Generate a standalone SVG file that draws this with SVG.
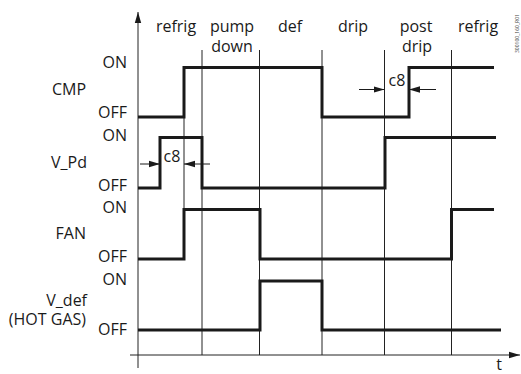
<svg xmlns="http://www.w3.org/2000/svg" width="521" height="374" viewBox="0 0 521 374">
<style>
text{font-family:"Open Sans","Noto Sans","Liberation Sans",sans-serif;font-size:16px;fill:#1a1a1a}
.r{text-anchor:end}
.c{text-anchor:middle}
.thin{stroke:#222;stroke-width:1;fill:none}
.sig{stroke:#1a1a1a;stroke-width:3;fill:none;stroke-linejoin:miter;stroke-linecap:butt}
.dim{stroke:#1a1a1a;stroke-width:1;fill:none}
.tiny{font-size:5px;fill:#444}
</style>
<defs>
<marker id="ah" markerWidth="12" markerHeight="8" refX="11" refY="4" orient="auto" markerUnits="userSpaceOnUse">
<path d="M0,0.8 L11,4 L0,7.2 Z" fill="#1a1a1a"/>
</marker>
</defs>
<g id="axes">
<line class="thin" x1="138" y1="368" x2="138" y2="12" marker-end="url(#ah)" stroke-width="1.2"/>
<line class="thin" x1="130" y1="355" x2="520" y2="355" marker-end="url(#ah)" stroke-width="1.2"/>
<text x="499" y="370" class="c">t</text>
</g>
<g id="phase-lines">
<line class="thin" x1="202" y1="50" x2="202" y2="355"/>
<line class="thin" x1="259.5" y1="50" x2="259.5" y2="355"/>
<line class="thin" x1="322" y1="50" x2="322" y2="355"/>
<line class="thin" x1="384.5" y1="50" x2="384.5" y2="355"/>
<line class="thin" x1="451.5" y1="50" x2="451.5" y2="355"/>
<line class="thin" x1="184" y1="117" x2="184" y2="209"/>
</g>
<g id="phase-labels">
<text x="176" y="32" class="c">refrig</text>
<text x="232" y="32" class="c">pump</text>
<text x="232" y="52" class="c">down</text>
<text x="290" y="32" class="c">def</text>
<text x="353" y="32" class="c">drip</text>
<text x="416" y="32" class="c">post</text>
<text x="417" y="52" class="c">drip</text>
<text x="478" y="32" class="c">refrig</text>
</g>
<g id="CMP">
<text x="86" y="95" class="r">CMP</text>
<text x="127" y="68" class="r">ON</text>
<text x="127" y="118" class="r">OFF</text>
<polyline class="sig" points="138,117 184,117 184,67.5 322,67.5 322,117 409,117 409,67.5 494,67.5"/>
</g>
<g id="V_Pd">
<text x="87" y="168" class="r">V_Pd</text>
<text x="127" y="141" class="r">ON</text>
<text x="127" y="191" class="r">OFF</text>
<polyline class="sig" points="138,188 160,188 160,137.5 202,137.5 202,188 385,188 385,137.5 496,137.5"/>
</g>
<g id="FAN">
<text x="86" y="239" class="r">FAN</text>
<text x="127" y="213" class="r">ON</text>
<text x="127" y="262" class="r">OFF</text>
<polyline class="sig" points="138,259 184,259 184,209.5 260,209.5 260,259 451.5,259 451.5,209.5 494,209.5"/>
</g>
<g id="V_def">
<text x="87" y="306" class="r">V_def</text>
<text x="86" y="325" class="r">(HOT GAS)</text>
<text x="127" y="285" class="r">ON</text>
<text x="127" y="335" class="r">OFF</text>
<polyline class="sig" points="138,330 260,330 260,281 322,281 322,330 501,330"/>
</g>
<g id="connectors">
<line class="dim" x1="140" y1="164" x2="160" y2="164" marker-end="url(#ah)"/>
<line class="dim" x1="210" y1="164" x2="184" y2="164" marker-end="url(#ah)"/>
<line class="dim" x1="359" y1="89.5" x2="384.5" y2="89.5" marker-end="url(#ah)"/>
<line class="dim" x1="436" y1="89.5" x2="409" y2="89.5" marker-end="url(#ah)"/>
</g>
<g id="dim-labels">
<text x="172" y="162" class="c">c8</text>
<text x="397" y="86" class="c">c8</text>
</g>
<text class="tiny" transform="translate(519,53) rotate(-90)">300100_160_R01</text>
</svg>
